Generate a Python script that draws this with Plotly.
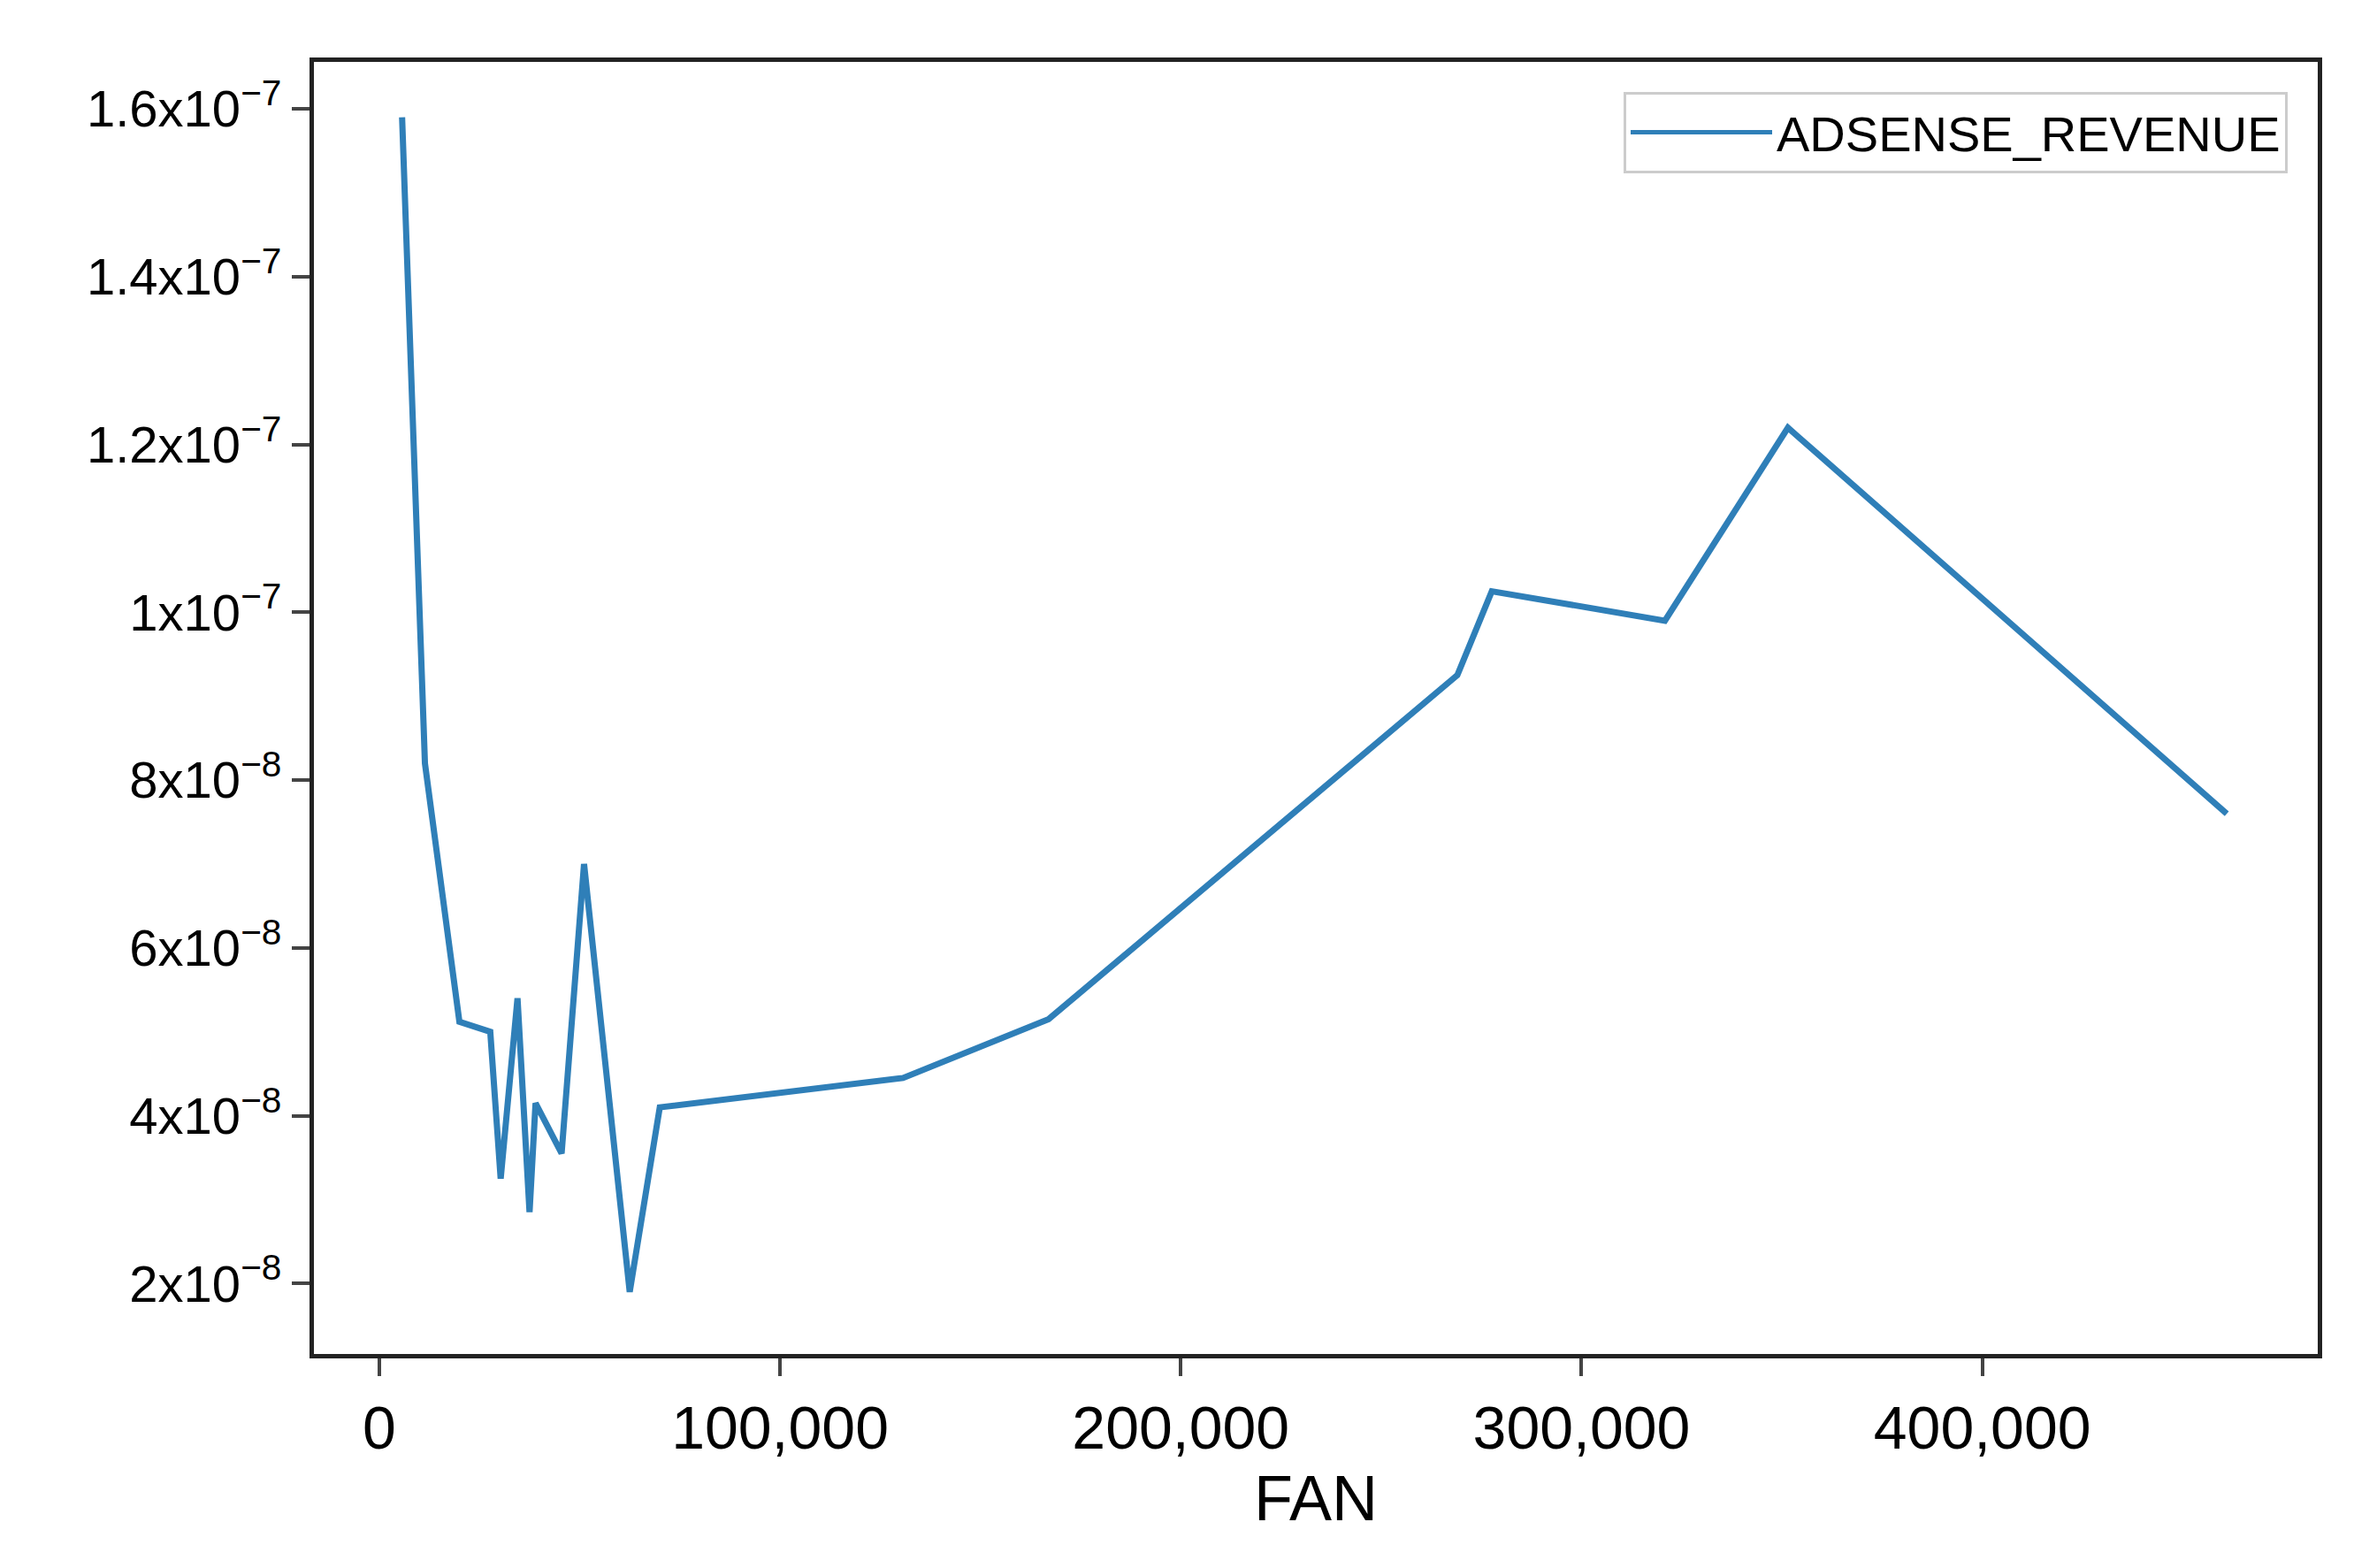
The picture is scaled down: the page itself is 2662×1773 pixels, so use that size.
import plotly.graph_objects as go

fan = [5700, 11400, 20000, 27700, 30300, 34500, 37500, 39000, 45500, 51100,
       62500, 70000, 130700, 167000, 269000, 277600, 320800, 351500, 461000]
revenue = [1.59e-7, 8.2e-8, 5.12e-8, 5.0e-8, 3.25e-8, 5.4e-8, 2.85e-8, 4.15e-8, 3.55e-8, 7.0e-8,
           1.9e-8, 4.1e-8, 4.45e-8, 5.15e-8, 9.25e-8, 1.025e-7, 9.9e-8, 1.22e-7, 7.6e-8]

y_tickvals = [2e-8, 4e-8, 6e-8, 8e-8, 1e-7, 1.2e-7, 1.4e-7, 1.6e-7]
y_ticktext = ["2x10<sup>−8</sup>", "4x10<sup>−8</sup>", "6x10<sup>−8</sup>", "8x10<sup>−8</sup>",
              "1x10<sup>−7</sup>", "1.2x10<sup>−7</sup>", "1.4x10<sup>−7</sup>", "1.6x10<sup>−7</sup>"]
x_tickvals = [0, 100000, 200000, 300000, 400000]
x_ticktext = ["0", "100,000", "200,000", "300,000", "400,000"]

fig = go.Figure(go.Scatter(x=fan, y=revenue, mode="lines", name="ADSENSE_REVENUE",
                           line=dict(color="#2f7fb8", width=7)))
fig.update_layout(
    width=2662, height=1773, plot_bgcolor="white", paper_bgcolor="white",
    margin=dict(l=347, r=49, t=62, b=250),
    font=dict(family="Liberation Sans", color="black"),
    showlegend=True,
    legend=dict(x=0.985, y=0.977, xanchor="right", yanchor="top",
                bgcolor="white", bordercolor="#cccccc", borderwidth=3,
                font=dict(size=56, family="Liberation Sans"), itemwidth=160,
                tracegroupgap=0, itemsizing="constant"),
)
fig.update_xaxes(range=[-16300, 483700], tickvals=x_tickvals, ticktext=x_ticktext,
                 tickfont=dict(size=68, family="Liberation Sans"),
                 title=dict(text="FAN", font=dict(size=72, family="Liberation Sans"), standoff=20),
                 showline=True, linecolor="#222222", linewidth=5, mirror=True,
                 ticks="outside", ticklen=20, tickwidth=4, showgrid=False, zeroline=False)
fig.update_yaxes(range=[1.16e-8, 1.656e-7], tickvals=y_tickvals, ticktext=y_ticktext,
                 tickfont=dict(size=58, family="Liberation Sans"),
                 showline=True, linecolor="#222222", linewidth=5, mirror=True,
                 ticks="outside", ticklen=20, tickwidth=4, showgrid=False, zeroline=False)
fig.write_html("out.html")
